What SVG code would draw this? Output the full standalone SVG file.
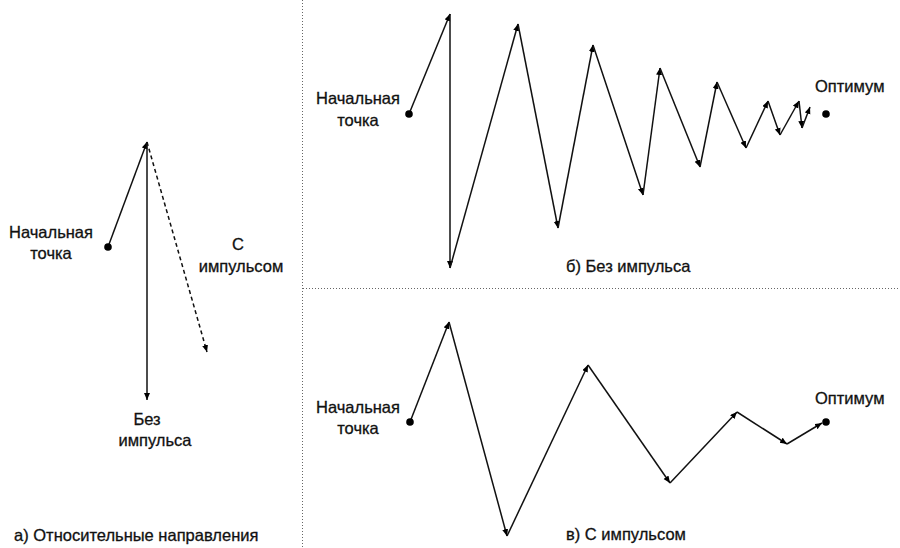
<svg xmlns="http://www.w3.org/2000/svg" width="900" height="548" viewBox="0 0 900 548">
<defs>
<marker id="ah" markerUnits="userSpaceOnUse" markerWidth="8" markerHeight="7" refX="7" refY="3" orient="auto">
<path d="M0,0 L7,3 L0,6 z" fill="#000"/>
</marker>
<style>
text{font-family:"Liberation Sans",Arial,sans-serif;font-size:16.5px;fill:#111;stroke:#111;stroke-width:0.3}
.m{text-anchor:middle}
.seg{stroke:#111;stroke-width:1.5;fill:none;marker-end:url(#ah)}
.dash{stroke-dasharray:4 3}
.div{stroke:#666;stroke-width:1;stroke-dasharray:1 2;fill:none}
.dot{fill:#000}
</style>
</defs>
<rect width="900" height="548" fill="#fff"/>
<g id="dividers">
<line class="div" x1="302.5" y1="0" x2="302.5" y2="548"/>
<line class="div" x1="303" y1="288.5" x2="900" y2="288.5"/>
</g>
<g id="connectors">
<path class="seg" d="M108,247 L147,142"/>
<path class="seg" d="M147,142 L147,400"/>
<path class="seg dash" d="M147,142 L207,352"/>
<path class="seg" d="M409,114 L450,14"/>
<path class="seg" d="M450,14 L450,268"/>
<path class="seg" d="M450,268 L518,24"/>
<path class="seg" d="M518,24 L558,228"/>
<path class="seg" d="M558,228 L593,45"/>
<path class="seg" d="M593,45 L643,195"/>
<path class="seg" d="M643,195 L660,68"/>
<path class="seg" d="M660,68 L700,167"/>
<path class="seg" d="M700,167 L717,82"/>
<path class="seg" d="M717,82 L746,148"/>
<path class="seg" d="M746,148 L768,101"/>
<path class="seg" d="M768,101 L780,135"/>
<path class="seg" d="M780,135 L799,101"/>
<path class="seg" d="M799,101 L802,128"/>
<path class="seg" d="M802,128 L810,107"/>
<path class="seg" d="M410,422 L449,322"/>
<path class="seg" d="M449,322 L507,536"/>
<path class="seg" d="M507,536 L588,365"/>
<path class="seg" d="M588,365 L670,483"/>
<path class="seg" d="M670,483 L737,412"/>
<path class="seg" d="M737,412 L787,444"/>
<path class="seg" d="M787,444 L822,423"/>
</g>
<g id="a-start">
<circle class="dot" cx="108" cy="247" r="3.8"/>
<text class="m" x="51" y="238">Начальная</text>
<text class="m" x="51" y="259">точка</text>
</g>
<g id="a-with">
<text class="m" x="238" y="250">С</text>
<text class="m" x="241" y="272">импульсом</text>
</g>
<g id="a-without">
<text class="m" x="147" y="425">Без</text>
<text class="m" x="155" y="446">импульса</text>
</g>
<g id="a-caption"><text x="14" y="541">а) Относительные направления</text></g>
<g id="b-start">
<circle class="dot" cx="409" cy="114" r="3.8"/>
<text class="m" x="358" y="104">Начальная</text>
<text class="m" x="358" y="126">точка</text>
</g>
<g id="b-opt">
<circle class="dot" cx="826" cy="114" r="3.8"/>
<text x="815" y="92">Оптимум</text>
</g>
<g id="b-caption"><text x="566" y="272">б) Без импульса</text></g>
<g id="c-start">
<circle class="dot" cx="410" cy="422" r="3.8"/>
<text class="m" x="358" y="413">Начальная</text>
<text class="m" x="358" y="434">точка</text>
</g>
<g id="c-opt">
<circle class="dot" cx="826" cy="422" r="3.8"/>
<text x="815" y="404">Оптимум</text>
</g>
<g id="c-caption"><text x="566" y="540">в) С импульсом</text></g>
</svg>
